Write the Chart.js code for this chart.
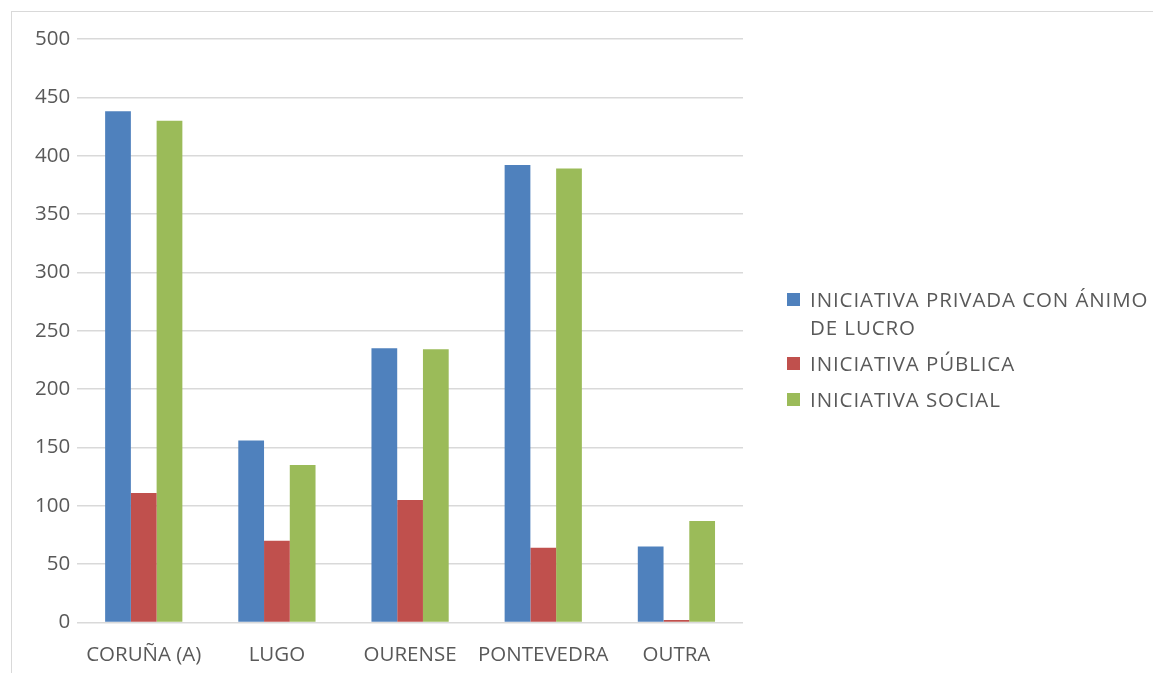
<!DOCTYPE html>
<html>
<head>
<meta charset="utf-8">
<script src="https://cdn.jsdelivr.net/npm/chart.js@4"></script>
<style>
  html, body { margin: 0; padding: 0; background: #fff; }
  #wrap { position: relative; width: 1153px; height: 673px; overflow: hidden; }
  #frame { position: absolute; left: 11px; top: 11px; width: 1200px; height: 700px; border: 1.5px solid #d9d9d9; box-sizing: border-box; }
  #chart { position: absolute; left: 0; top: 0; }
  #legend { position: absolute; left: 787px; top: 285px; font-family: "Open Sans", sans-serif; font-size: 20.5px; color: #595959; letter-spacing: 0.9px; }
  .item { display: flex; align-items: flex-start; margin-bottom: 8px; line-height: 28px; }
  .sw { width: 13px; height: 13px; margin-top: 8px; margin-right: 10px; flex: none; }
</style>
</head>
<body>
<div id="wrap">
  <div id="frame"></div>
  <canvas id="chart" width="1153" height="683"></canvas>
  <div id="legend"></div>
</div>
<script>
// Data
const categories = ["CORUÑA (A)", "LUGO", "OURENSE", "PONTEVEDRA", "OUTRA"]
const seriesNames = [["INICIATIVA PRIVADA CON ÁNIMO", "DE LUCRO"], ["INICIATIVA PÚBLICA"], ["INICIATIVA SOCIAL"]]
const privadaValues = [438, 156, 235, 392, 65]
const publicaValues = [111, 70, 105, 64, 2]
const socialValues = [430, 135, 234, 389, 87]
const seriesColors = ["#4f81bd", "#c0504d", "#9bbb59"]
const yTicks = [0, 50, 100, 150, 200, 250, 300, 350, 400, 450, 500]

const textColor = "#595959"
const gridColor = "#d9d9d9"

const allValues = [privadaValues, publicaValues, socialValues]

new Chart(document.getElementById("chart"), {
  type: "bar",
  data: {
    labels: categories,
    datasets: allValues.map((vals, i) => ({
      label: seriesNames[i].join(" "),
      data: vals,
      backgroundColor: seriesColors[i],
      borderWidth: 0,
      categoryPercentage: 0.58,
      barPercentage: 1,
    })),
  },
  options: {
    responsive: false,
    animation: false,
    layout: { padding: { left: 28, right: 410, top: 39, bottom: 4 } },
    plugins: {
      legend: { display: false },
      tooltip: { enabled: false },
    },
    scales: {
      x: {
        grid: { display: false },
        border: { display: false },
        ticks: {
          color: textColor,
          font: { family: "Open Sans", size: 20.5 },
          padding: 12,
          maxRotation: 0,
          autoSkip: false,
        },
      },
      y: {
        min: 0,
        max: 500,
        afterBuildTicks: (axis) => {
          axis.ticks = yTicks.map((v) => ({ value: v }))
        },
        grid: { color: gridColor, lineWidth: 1.5, drawTicks: false },
        border: { display: false },
        ticks: {
          color: textColor,
          font: { family: "Open Sans", size: 20.5 },
          padding: 7,
        },
      },
    },
  },
})

// Legend drawn as HTML so the first label can wrap like the original
const legend = document.getElementById("legend")
legend.innerHTML = seriesNames
  .map((lines, i) => `
    <div class="item">
      <div class="sw" style="background:${seriesColors[i]}"></div>
      <div>${lines.join("<br>")}</div>
    </div>`)
  .join("")
</script>
</body>
</html>
